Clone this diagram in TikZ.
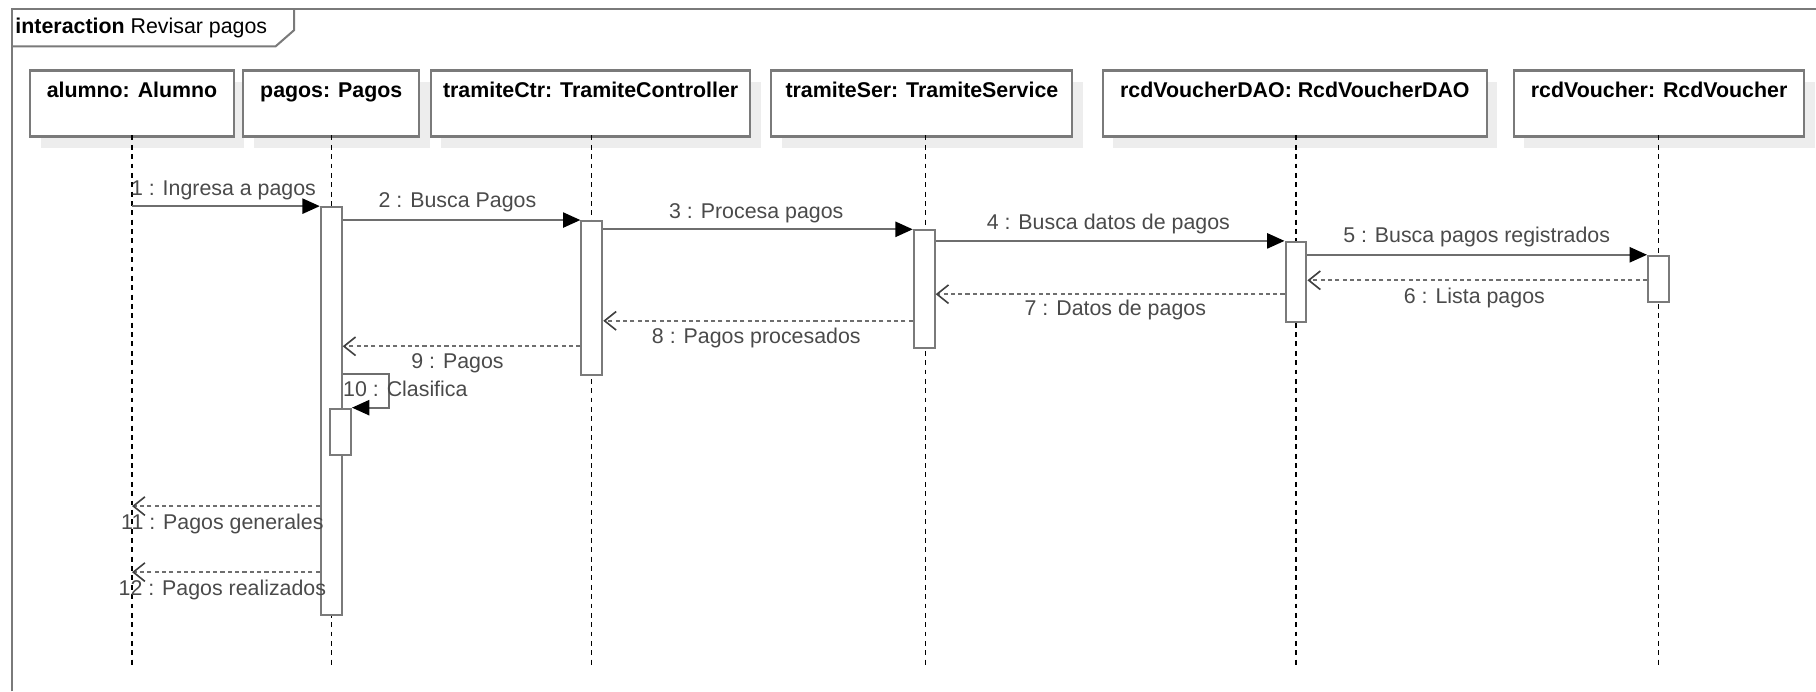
\documentclass[tikz,border=0pt]{standalone}
\usepackage{fontspec}
\setmainfont{Liberation Sans}
\usetikzlibrary{arrows.meta,shadows,calc}
\definecolor{boxgray}{HTML}{7A7A7A}
\definecolor{linegray}{HTML}{6E6E6E}
\definecolor{txtgray}{HTML}{4A4A4A}
\definecolor{shadowgray}{HTML}{EDEDED}
\begin{document}
\begin{tikzpicture}[x=0.02cm,y=-0.02cm,
  head/.style={draw=boxgray, line width=1pt, fill=white, anchor=north,
    minimum height=1.14cm, inner xsep=0pt, inner ysep=0.2cm,
    text height=0.26cm, text depth=0.48cm,
    font=\fontsize{10.5}{12}\selectfont\bfseries,
    general shadow={fill=shadowgray, draw=none, shadow xshift=0.18cm, shadow yshift=-0.2cm}},
  act/.style={draw=boxgray, line width=1pt, fill=white, anchor=north,
    minimum width=0.36cm, inner sep=0pt},
  life/.style={draw=black, line width=0.6pt, dash pattern=on 2.4pt off 2.2pt},
  msg/.style={draw=linegray, line width=1.1pt,
    -{Triangle[length=0.3cm,width=0.26cm,color=black]}},
  ret/.style={draw=linegray, line width=1.1pt, dash pattern=on 2pt off 1.6pt,
    -{Straight Barb[length=0.2cm,width=0.32cm,line width=0.8pt,color=darkgray]}},
  lbl/.style={font=\fontsize{10.5}{12}\selectfont, text=txtgray, inner sep=0pt},
  frm/.style={draw=boxgray, line width=1pt}
]
\useasboundingbox (0,0) rectangle (1568,597);

% frame
\draw[frm] (10,597) -- (10,8) -- (1568,8);
\draw[frm] (10,40) -- (238,40) -- (254,26) -- (254,8);
\node[anchor=west, inner sep=0pt, font=\fontsize{10.5}{12}\selectfont] (title) at (13,24)
  {\textbf{interaction} Revisar pagos};

% headers
\node[head, minimum width=3.52cm] (alumno) at (114,60) {alumno: Alumno};
\node[head, minimum width=3.04cm] (pagos) at (286,60) {pagos: Pagos};
\node[head, minimum width=5.52cm] (ctr) at (510,60) {tramiteCtr: TramiteController};
\node[head, minimum width=5.2cm] (ser) at (796,60) {tramiteSer: TramiteService};
\node[head, minimum width=6.64cm] (dao) at (1118,60) {rcdVoucherDAO: RcdVoucherDAO};
\node[head, minimum width=5.02cm] (vou) at (1432.5,60) {rcdVoucher: RcdVoucher};

% lifelines
\foreach \x in {114,286,511,799,1119,1432}{
  \draw[life] (\x,117) -- (\x,577);
}

% activations
\node[act, minimum height=7.04cm] (pa) at (286,178) {};
\node[act, minimum height=2.66cm] (ca) at (511,190) {};
\node[act, minimum height=2.04cm] (sa) at (798,198) {};
\node[act, minimum height=1.38cm] (da) at (1119,208) {};
\node[act, minimum height=0.8cm] (va) at (1432,220) {};

% messages
\draw[msg] (114,178) -- (pa.north west);
\node[lbl] (l1) at (193,164) {1 : Ingresa a pagos};

\draw[msg] (pa.east |- ca.north) -- (ca.north west);
\node[lbl] (l2) at (395,175) {2 : Busca Pagos};

\draw[msg] (ca.east |- sa.north) -- (sa.north west);
\node[lbl] (l3) at (653,184) {3 : Procesa pagos};

\draw[msg] (sa.east |- da.north) -- (da.north west);
\node[lbl] (l4) at (957,193) {4 : Busca datos de pagos};

\draw[msg] (da.east |- va.north) -- (va.north west);
\node[lbl] (l5) at (1275,205) {5 : Busca pagos registrados};

\draw[ret] (va.west |- 0,242) -- (da.east |- 0,242);
\node[lbl] (l6) at (1273,257) {6 : Lista pagos};

\draw[ret] (da.west |- 0,254) -- (sa.east |- 0,254);
\node[lbl] (l7) at (963,268) {7 : Datos de pagos};

\draw[ret] (sa.west |- 0,277) -- (ca.east |- 0,277);
\node[lbl] (l8) at (653,292) {8 : Pagos procesados};

\draw[ret] (ca.west |- 0,299) -- (pa.east |- 0,299);
\node[lbl] (l9) at (395,314) {9 : Pagos};

% self message
\node[act, minimum height=0.8cm] (pn) at (294,352) {};
\draw[msg] (pa.east |- 0,323) -- (336,323) -- (336,352) -- (pn.north east);
\node[lbl, anchor=west] (l10) at (296,336) {10 : Clasifica};

\draw[ret] (pa.west |- 0,437) -- (114,437);
\node[lbl] (l11) at (192,452) {11 : Pagos generales};

\draw[ret] (pa.west |- 0,494) -- (114,494);
\node[lbl] (l12) at (192,509) {12 : Pagos realizados};
\end{tikzpicture}
\end{document}
